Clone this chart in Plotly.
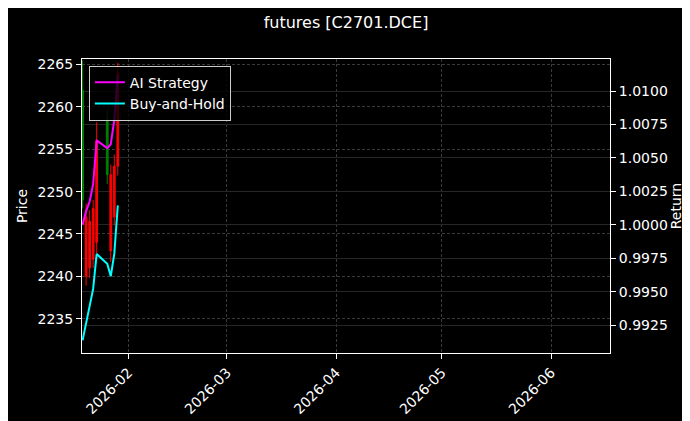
import plotly.graph_objects as go

# daily bars for C2701.DCE
dates = ["2026-01-19", "2026-01-20", "2026-01-21", "2026-01-22", "2026-01-23",
         "2026-01-26", "2026-01-27", "2026-01-28", "2026-01-29"]
open_px = [2262.0, 2240.0, 2241.0, 2242.0, 2244.0, 2258.5, 2243.0, 2247.0, 2253.0]
high_px = [2265.5, 2248.6, 2247.8, 2249.0, 2258.2, 2259.7, 2253.2, 2254.4, 2265.2]
low_px = [2248.0, 2238.9, 2239.8, 2241.0, 2242.7, 2250.9, 2241.7, 2246.0, 2251.9]
close_px = [2249.0, 2247.0, 2246.5, 2248.0, 2256.0, 2252.0, 2252.0, 2253.0, 2264.0]

# cumulative returns
ai_strategy = [1.0000, 1.00102, 1.00174, 1.00305, 1.00632, 1.00574, 1.00603, 1.00785, 1.01119]
buy_hold = [0.99135, 0.99273, 0.99390, 0.99520, 0.99782, 0.99709, 0.99615, 0.99782, 1.00145]

font = "DejaVu Sans"
fg = "#ffffff"

fig = go.Figure()
fig.add_trace(go.Candlestick(
    x=dates, open=open_px, high=high_px, low=low_px, close=close_px,
    increasing=dict(line=dict(color="#ff0000", width=1), fillcolor="#ff0000"),
    decreasing=dict(line=dict(color="#008000", width=1), fillcolor="#008000"),
    showlegend=False, yaxis="y"))
fig.add_trace(go.Scatter(x=dates, y=ai_strategy, mode="lines", name="AI Strategy",
                         line=dict(color="#ff00ff", width=2), yaxis="y2"))
fig.add_trace(go.Scatter(x=dates, y=buy_hold, mode="lines", name="Buy-and-Hold",
                         line=dict(color="#00ffff", width=2), yaxis="y2"))

axis_common = dict(showline=True, linecolor=fg, linewidth=1, mirror=True,
                   ticks="outside", ticklen=5, tickcolor=fg, tickwidth=1,
                   tickfont=dict(family=font, size=14, color=fg), zeroline=False)

fig.update_layout(
    width=690, height=421,
    margin=dict(l=74, r=88, t=51, b=67),
    paper_bgcolor="#000000", plot_bgcolor="#000000",
    font=dict(family=font, color=fg, size=14),
    title=dict(text="futures [C2701.DCE]", x=0.5, xref="paper", y=0.965, yanchor="middle",
               font=dict(family=font, size=16, color=fg)),
    xaxis=dict(axis_common, type="date", range=["2026-01-18 20:00", "2026-06-17 18:00"],
               dtick="M1", tick0="2026-01-01", tickformat="%Y-%m", tickangle=-45,
               showgrid=True, gridcolor="#3a3a3a", griddash="3px,2px", gridwidth=0.7,
               rangeslider=dict(visible=False)),
    yaxis=dict(axis_common, range=[2230.95, 2265.66], dtick=5,
               showgrid=True, gridcolor="#3a3a3a", griddash="3px,2px", gridwidth=0.7,
               title=dict(text="Price", font=dict(family=font, size=14, color=fg), standoff=6)),
    yaxis2=dict(axis_common, overlaying="y", side="right", range=[0.990407, 1.012405],
                dtick=0.0025, tickformat=".4f",
                showgrid=True, gridcolor="#262626", gridwidth=0.7,
                title=dict(text="Return", font=dict(family=font, size=14, color=fg), standoff=2)),
    legend=dict(x=0.013, y=0.977, xanchor="left", yanchor="top",
                bgcolor="rgba(0,0,0,0.8)", bordercolor="#cccccc", borderwidth=1,
                font=dict(family=font, size=14, color=fg)),
)

fig.write_html("out.html")
